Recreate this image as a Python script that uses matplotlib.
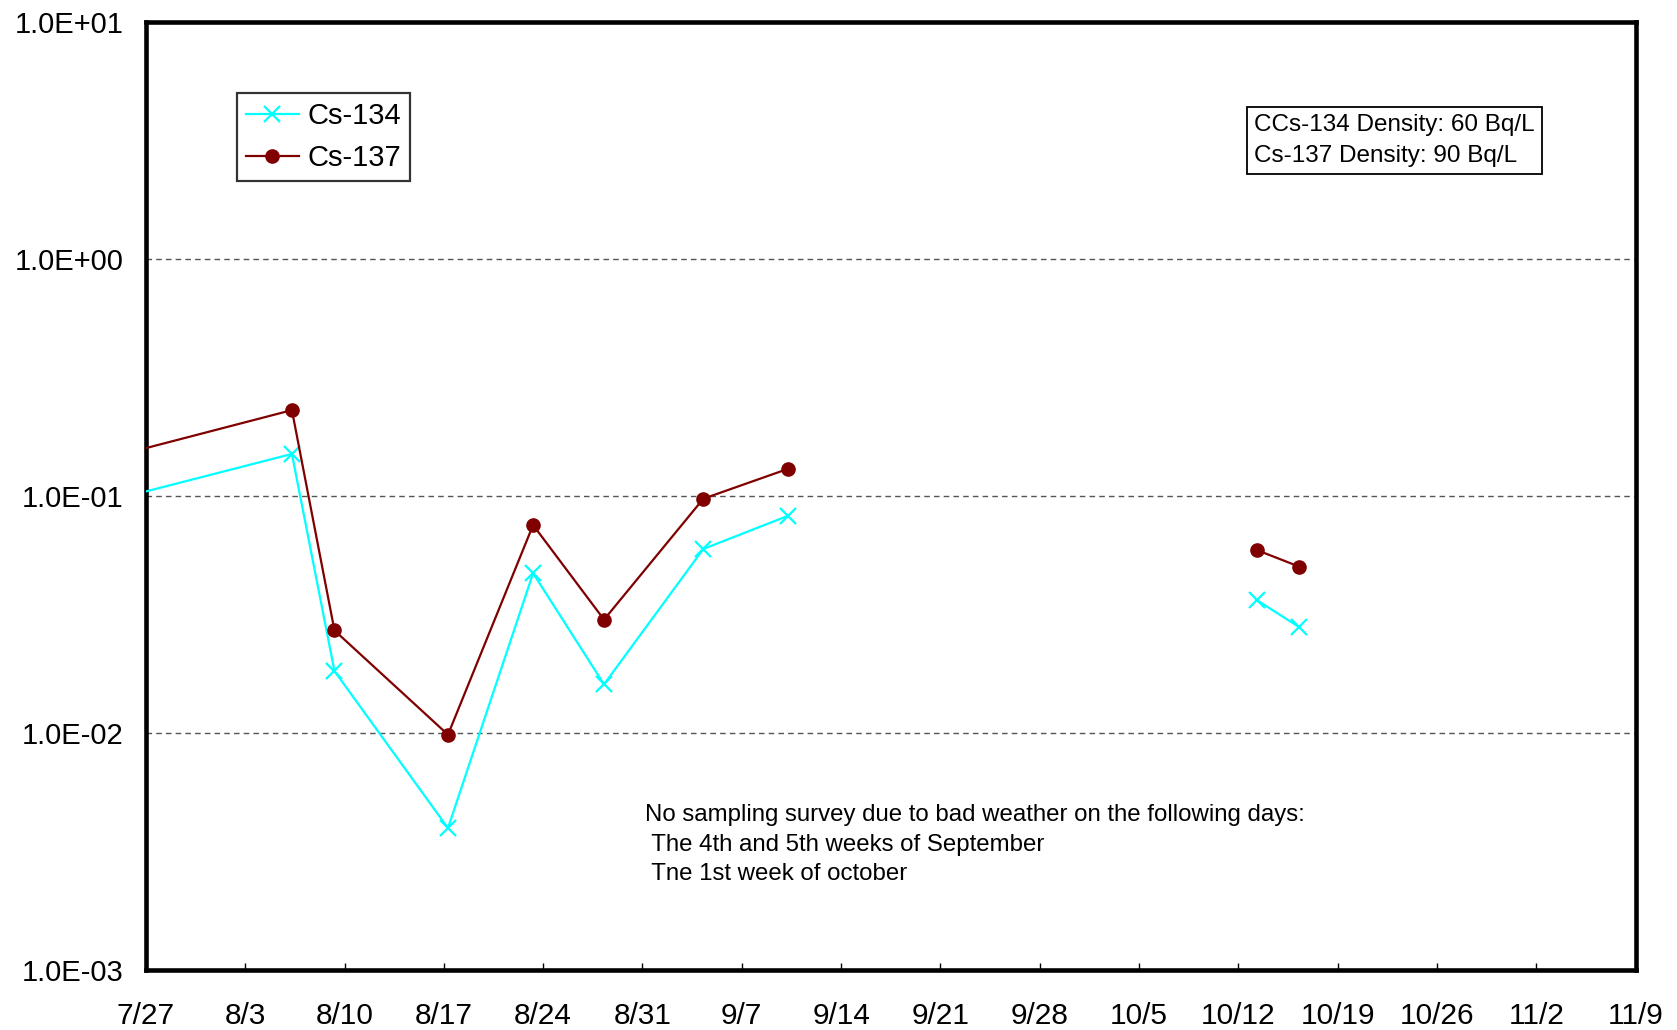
import numpy as np
import pandas as pd
import matplotlib
matplotlib.use("Agg")
import matplotlib.pyplot as plt

plt.rcParams['font.family'] = ['Liberation Sans', 'DejaVu Sans']

# sampling dates (NaN row breaks the line where no survey was done)
dates = ['2011-07-23 07:00', '2011-08-06 07:00', '2011-08-09 07:00', '2011-08-17 07:00',
         '2011-08-23 07:00', '2011-08-28 07:00', '2011-09-04 07:00', '2011-09-10 07:00',
         '2011-09-24 07:00', '2011-10-13 07:00', '2011-10-16 07:00']
cs134 = [0.0914, 0.150, 0.0182, 0.00396, 0.0471, 0.0160, 0.0596, 0.0824, np.nan,
         0.0363, 0.0279]
cs137 = [0.139, 0.2296, 0.0270, 0.00981, 0.0752, 0.0300, 0.0971, 0.130, np.nan,
         0.0590, 0.0502]

week_ticks = pd.date_range('2011-07-27', '2011-11-09', freq='7D')
xtick_labels = ['7/27', '8/3', '8/10', '8/17', '8/24', '8/31', '9/7', '9/14',
                '9/21', '9/28', '10/5', '10/12', '10/19', '10/26', '11/2', '11/9']
ytick_vals = [1e-3, 1e-2, 1e-1, 1e0, 1e1]
ytick_labels = ['1.0E-03', '1.0E-02', '1.0E-01', '1.0E+00', '1.0E+01']

x = pd.to_datetime(dates)

fig = plt.figure(figsize=(16.77, 10.30), dpi=100)
ax = fig.add_axes([0.087, 0.0585, 0.8883, 0.9205])

ax.plot(x, cs134, color='#00FFFF', lw=1.6, marker='x', ms=11, mew=1.6,
        label='Cs-134', zorder=3)
ax.plot(x, cs137, color='#800000', lw=1.6, marker='o', ms=9.5,
        label='Cs-137', zorder=4)

ax.set_yscale('log')
ax.set_ylim(1e-3, 1e1)
ax.set_xlim(week_ticks[0], week_ticks[-1])

ax.set_xticks(week_ticks)
ax.set_xticklabels(xtick_labels)
ax.set_yticks(ytick_vals)
ax.set_yticklabels(ytick_labels)
ax.yaxis.set_minor_locator(matplotlib.ticker.NullLocator())
ax.tick_params(axis='x', direction='in', length=5, width=1, labelsize=21.5, pad=23)
ax.tick_params(axis='y', length=0, labelsize=21, pad=16)

for v in ytick_vals[1:-1]:
    ax.axhline(v, color='#555555', lw=1, ls=(0, (4, 3)), zorder=1)

for s in ax.spines.values():
    s.set_linewidth(3.3)
    s.set_color('black')

leg = ax.legend(loc='upper left', bbox_to_anchor=(0.0614, 0.9246), borderaxespad=0,
                fontsize=21, frameon=True, fancybox=False, handlelength=1.8,
                handletextpad=0.3, labelspacing=0.5, borderpad=0.3)
leg.get_frame().set_edgecolor('black')
leg.get_frame().set_linewidth(1.6)

ax.text(0.7441, 0.8745, 'CCs-134 Density: 60 Bq/L\nCs-137 Density: 90 Bq/L',
        transform=ax.transAxes, ha='left', va='center', fontsize=17.5, linespacing=1.5,
        bbox=dict(boxstyle='square,pad=0.3', fc='white', ec='black', lw=1.3))

ax.text(0.335, 0.132,
        'No sampling survey due to bad weather on the following days:\n'
        ' The 4th and 5th weeks of September\n'
        ' Tne 1st week of october',
        transform=ax.transAxes, ha='left', va='center', fontsize=17.3, linespacing=1.42)

fig.savefig('out.png', dpi=100)
